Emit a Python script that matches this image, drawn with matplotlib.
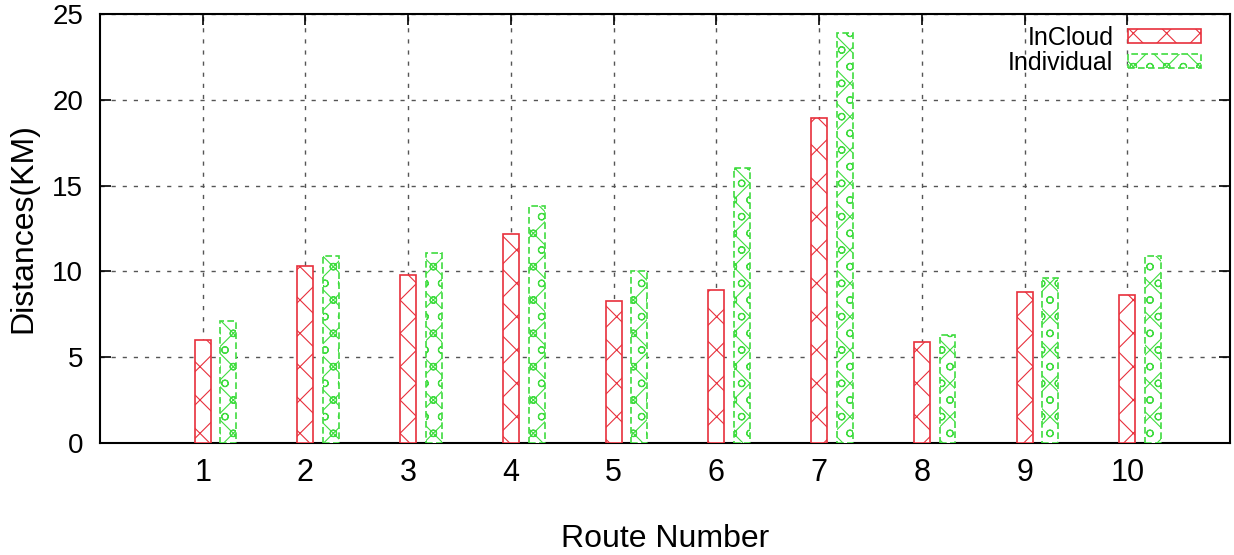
import matplotlib
matplotlib.use("Agg")
import matplotlib.pyplot as plt
import numpy as np

plt.rcParams['font.family'] = ['Liberation Sans', 'DejaVu Sans']
plt.rcParams['hatch.linewidth'] = 0.8

routes = [1, 2, 3, 4, 5, 6, 7, 8, 9, 10]
incloud = [6.0, 10.3, 9.8, 12.2, 8.3, 8.9, 18.95, 5.9, 8.8, 8.6]
individual = [7.1, 10.9, 11.1, 13.8, 10.0, 16.0, 23.9, 6.3, 9.6, 10.9]
yticks = [0, 5, 10, 15, 20, 25]

red = '#e8303c'
green = '#3fdc3f'

fig = plt.figure(figsize=(12.34, 5.55), dpi=100)
ax = fig.add_axes([0.081, 0.2018, 0.9158, 0.7730])

x = np.array(routes, dtype=float)
w = 0.155
ax.bar(x, incloud, width=w, facecolor='white', edgecolor=red, hatch='x',
       linewidth=1.2, zorder=3, label='InCloud')
ax.bar(x + 0.25, individual, width=w, facecolor='white', edgecolor=green,
       hatch='xo', linewidth=1.2, linestyle=(0, (4, 2)), zorder=3,
       label='Individual')

ax.set_xlim(0, 11)
ax.set_ylim(0, 25)
ax.set_xticks(routes)
ax.set_xticklabels([str(r) for r in routes], fontsize=22)
ax.set_yticks(yticks)
ax.set_yticklabels([str(t) for t in yticks], fontsize=20)
ax.tick_params(direction='in', length=8, width=1.2, top=True, right=True,
               colors='black')
ax.tick_params(axis='x', pad=11)
ax.tick_params(axis='y', pad=12)
ax.grid(True, color='#555555', linestyle=(0, (3, 5)), linewidth=1.0, zorder=0)
ax.set_axisbelow(True)
for s in ax.spines.values():
    s.set_linewidth(1.5)

ax.set_xlabel('Route Number', fontsize=23, labelpad=26)
ax.set_ylabel('Distances(KM)', fontsize=23, labelpad=10)

leg = ax.legend(loc='upper right', frameon=False, markerfirst=False,
                fontsize=18, handlelength=2.9, handleheight=0.45,
                labelspacing=0.05, borderaxespad=0.0, handletextpad=0.6,
                bbox_to_anchor=(0.983, 0.996))

fig.savefig('out.png', dpi=100)
